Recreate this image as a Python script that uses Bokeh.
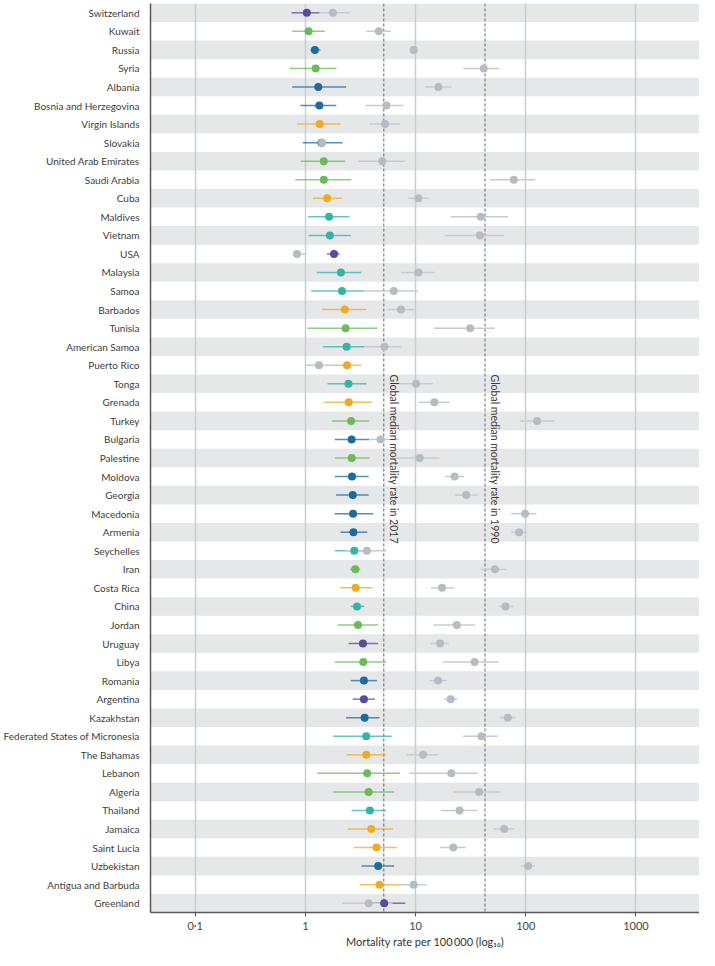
import numpy as np
from bokeh.plotting import figure
from bokeh.models import FixedTicker, Span, Label, Range1d, ColumnDataSource
from bokeh.embed import file_html
from bokeh.resources import INLINE

countries = ["Switzerland", "Kuwait", "Russia", "Syria", "Albania", "Bosnia and Herzegovina",
             "Virgin Islands", "Slovakia", "United Arab Emirates", "Saudi Arabia", "Cuba",
             "Maldives", "Vietnam", "USA", "Malaysia", "Samoa", "Barbados", "Tunisia",
             "American Samoa", "Puerto Rico", "Tonga", "Grenada", "Turkey", "Bulgaria",
             "Palestine", "Moldova", "Georgia", "Macedonia", "Armenia", "Seychelles", "Iran",
             "Costa Rica", "China", "Jordan", "Uruguay", "Libya", "Romania", "Argentina",
             "Kazakhstan", "Federated States of Micronesia", "The Bahamas", "Lebanon",
             "Algeria", "Thailand", "Jamaica", "Saint Lucia", "Uzbekistan",
             "Antigua and Barbuda", "Greenland"]

regions = ["HI", "NAME", "CEE", "NAME", "CEE", "CEE",
           "LAC", "CEE", "NAME", "NAME", "LAC",
           "SEA", "SEA", "HI", "SEA", "SEA", "LAC", "NAME",
           "SEA", "LAC", "SEA", "LAC", "NAME", "CEE",
           "NAME", "CEE", "CEE", "CEE", "CEE", "SEA", "NAME",
           "LAC", "SEA", "NAME", "HI", "NAME", "CEE", "HI",
           "CEE", "SEA", "LAC", "NAME",
           "NAME", "SEA", "LAC", "LAC", "CEE",
           "LAC", "HI"]

rate_2017 = [1.03, 1.07, 1.22, 1.24, 1.31, 1.34, 1.35, 1.40, 1.47, 1.47, 1.58, 1.64, 1.67, 1.82,
             2.10, 2.15, 2.28, 2.32, 2.37, 2.39, 2.46, 2.47, 2.60, 2.63, 2.63, 2.65, 2.69, 2.71,
             2.73, 2.78, 2.84, 2.86, 2.94, 3.00, 3.33, 3.35, 3.40, 3.40, 3.45, 3.57, 3.57, 3.64,
             3.75, 3.85, 3.96, 4.42, 4.58, 4.71, 5.19]
lower_2017 = [0.75, 0.76, 1.11, 0.72, 0.76, 0.90, 0.84, 0.95, 0.91, 0.81, 1.17, 1.06, 1.07, 1.57,
              1.27, 1.13, 1.42, 1.04, 1.44, 1.75, 1.59, 1.48, 1.74, 1.85, 1.85, 1.85, 1.90, 1.84,
              2.08, 1.85, 2.54, 2.07, 2.58, 1.97, 2.47, 1.85, 2.58, 2.69, 2.34, 1.79, 2.37, 1.28,
              1.79, 2.63, 2.42, 2.76, 3.24, 3.11, 3.60]
upper_2017 = [1.35, 1.50, 1.37, 1.91, 2.34, 1.91, 2.08, 2.18, 2.29, 2.61, 2.14, 2.51, 2.60, 2.05,
              3.22, 3.45, 3.55, 4.51, 3.45, 3.22, 3.59, 4.04, 3.80, 3.80, 3.83, 3.75, 3.75, 4.13,
              3.64, 3.90, 3.15, 4.07, 3.42, 4.58, 4.58, 5.40, 4.48, 4.27, 4.71, 6.08, 5.37, 7.22,
              6.38, 5.40, 6.25, 6.79, 6.38, 7.22, 8.07]

rate_1990 = [1.78, 4.64, 9.6, 41.6, 16.1, 5.44, 5.29, 1.42, 5.0, 78.0, 10.6, 39.0, 38.3, 0.84,
             10.6, 6.34, 7.38, 31.3, 5.22, 1.33, 10.1, 14.8, 127.0, 4.8, 10.9, 22.6, 28.8, 98.6,
             87.0, 3.62, 52.6, 17.4, 65.6, 23.7, 16.7, 34.3, 16.0, 20.8, 68.8, 39.6, 11.7, 21.1,
             37.7, 25.1, 63.8, 22.0, 105.0, 9.6, 3.75]
lower_1990 = [1.35, 3.57, 9.3, 27.1, 12.2, 3.52, 3.83, 1.36, 3.0, 47.4, 8.6, 20.9, 18.4, 0.77,
              7.38, 3.45, 5.56, 14.7, 3.45, 1.0, 6.7, 10.6, 89.0, 3.8, 6.7, 18.6, 22.9, 73.8,
              74.0, 2.30, 39.0, 13.8, 56.7, 14.5, 13.7, 17.6, 13.4, 18.1, 57.9, 27.1, 8.35, 8.83,
              22.0, 17.0, 51.1, 16.6, 90.0, 7.22, 2.15]
upper_1990 = [2.53, 6.0, 9.9, 57.5, 21.2, 7.74, 7.18, 1.48, 8.0, 122.0, 13.2, 69.0, 63.4, 1.0,
              15.0, 10.5, 9.8, 52.2, 7.48, 1.75, 14.4, 20.4, 182.0, 7.1, 16.5, 27.6, 36.7, 125.0,
              103.0, 5.40, 67.0, 22.5, 77.0, 34.7, 20.0, 56.7, 19.1, 23.9, 80.7, 55.6, 15.9, 36.7,
              58.7, 36.4, 78.5, 28.4, 121.0, 12.6, 6.17]

median_2017 = 5.15
median_1990 = 42.7
median_labels = ["Global median mortality rate in 2017", "Global median mortality rate in 1990"]

x_ticks = [0.1, 1, 10, 100, 1000]
x_tick_labels = ["0·1", "1", "10", "100", "1000"]
x_start, x_end = 0.0393, 3776
x_title = "Mortality rate per 100\u2009000 (log\u2081\u2080)"

region_colors = {"HI": "#5b4a9b", "NAME": "#6cbb58", "CEE": "#1e6b9b",
                 "LAC": "#f0ab26", "SEA": "#34b3a7"}
grey_dot = "#b5bcc2"
grey_line = "#c6ccd1"
stripe_color = "#e6e7e8"
FONT = "Lato"

n = len(countries)
rows = list(range(1, n + 1))
colors = [region_colors[r] for r in regions]

src = ColumnDataSource(dict(row=rows, country=countries, color=colors,
                            r17=rate_2017, l17=lower_2017, u17=upper_2017,
                            r90=rate_1990, l90=lower_1990, u90=upper_1990))

p = figure(width=699, height=950, x_axis_type="log",
           x_range=Range1d(x_start, x_end), y_range=Range1d(n + 0.5, 0.5),
           output_backend="svg", toolbar_location=None,
           min_border_left=0, min_border_right=0, min_border_top=3, min_border_bottom=0)
p.outline_line_color = None
p.background_fill_color = "white"

# alternating stripes
stripe_rows = rows[0::2]
stripes = p.hbar(y=stripe_rows, left=x_start, right=x_end, height=1.0,
                 fill_color=stripe_color, line_color=None)
stripes.level = "image"

# grid
p.ygrid.visible = False
p.xgrid.ticker = FixedTicker(ticks=x_ticks, minor_ticks=[])
p.xgrid.grid_line_color = "#c7cdd2"
p.xgrid.grid_line_width = 1.5

# median lines
for m in (median_2017, median_1990):
    p.add_layout(Span(location=m, dimension="height", line_color="#5f6a74",
                      line_dash="3 2", line_width=1, level="underlay"))

for m, txt in zip((median_2017, median_1990), median_labels):
    p.add_layout(Label(x=m, y=20.5, text=txt, angle=-np.pi / 2, x_offset=4,
                       text_align="left", text_baseline="bottom",
                       text_font=FONT, text_font_size="10.5px", text_color="#3d3d3d"))

# CI lines
p.segment(x0="l17", y0="row", x1="u17", y1="row", source=src,
          line_color="color", line_width=1.5, line_alpha=0.75)
p.segment(x0="l90", y0="row", x1="u90", y1="row", source=src,
          line_color=grey_line, line_width=1.5)
# points
p.scatter(x="r17", y="row", source=src, size=8, fill_color="color", line_color=None)
p.scatter(x="r90", y="row", source=src, size=8, fill_color=grey_dot, line_color=None)

# x axis
xa = p.xaxis[0]
xa.ticker = FixedTicker(ticks=x_ticks, minor_ticks=[])
xa.major_label_overrides = dict(zip(x_ticks, x_tick_labels))
xa.axis_label = x_title
xa.axis_label_text_font_style = "normal"
xa.axis_label_text_font = FONT
xa.axis_label_text_font_size = "11px"
xa.axis_label_text_color = "#333333"
xa.axis_label_standoff = 0
xa.major_label_text_font = FONT
xa.major_label_text_font_size = "11px"
xa.major_label_text_color = "#444444"
xa.major_label_standoff = 2
xa.axis_line_color = "#5a5a5a"
xa.axis_line_width = 1.5
xa.major_tick_line_color = "#5a5a5a"
xa.major_tick_in = 0
xa.major_tick_out = 4
xa.minor_tick_line_color = None

# y axis: country labels
ya = p.yaxis[0]
ya.ticker = FixedTicker(ticks=rows, minor_ticks=[])
ya.major_label_overrides = {r: c for r, c in zip(rows, countries)}
ya.major_label_text_font = FONT
ya.major_label_text_font_size = "10px"
ya.major_label_text_color = "#3d3d3d"
ya.major_label_standoff = 5
ya.axis_line_color = "#5a5a5a"
ya.axis_line_width = 1.5
ya.major_tick_line_color = None
ya.minor_tick_line_color = None

open("out.html", "w").write(file_html(p, INLINE))
